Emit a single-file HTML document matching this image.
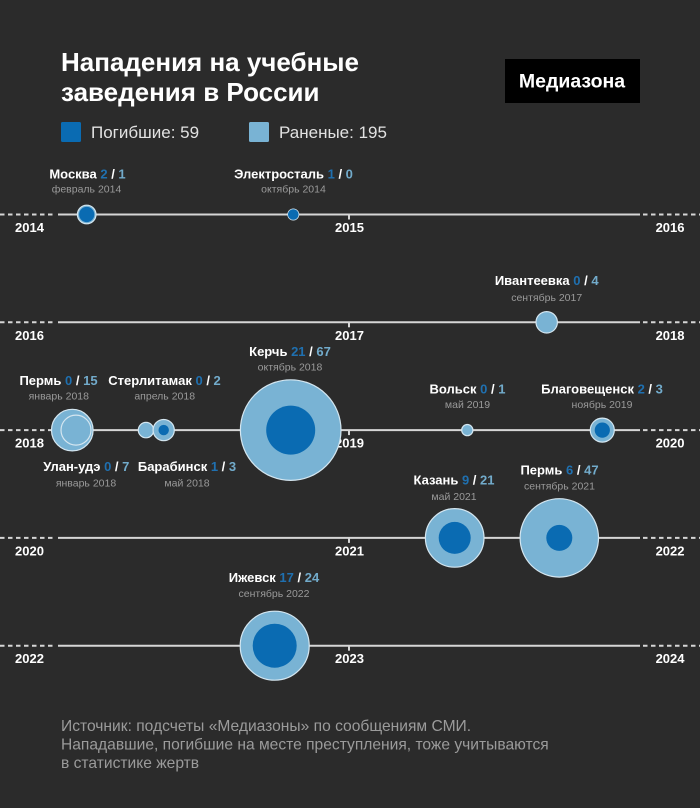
<!DOCTYPE html>
<html><head><meta charset="utf-8"><style>
html,body{margin:0;padding:0;background:#2b2b2b;}
svg{display:block;}
text{font-family:"Liberation Sans","Noto Sans CJK SC",sans-serif;}
.t{font-weight:bold;font-size:26px;fill:#fff;}
.lg{font-size:17px;fill:#e2e2e2;}
.n{font-weight:bold;font-size:13px;fill:#fff;}
.d{font-size:10.5px;fill:#9a9a9a;}
.y{font-weight:bold;font-size:13px;fill:#fff;}
.k{fill:#1f70b0;}
.i{fill:#72abcb;}
.f{font-size:15.6px;fill:#9b9b9b;}
.ln{stroke:#d6d6d6;stroke-width:2;fill:none;}
.ds{stroke:#d6d6d6;stroke-width:2;fill:none;stroke-dasharray:4.5,3.5;}
.o{fill:#79b3d4;stroke:#d4e6f0;stroke-width:1.2;}
.c{fill:#0a6bb2;}
</style></head><body>
<svg width="700" height="808" viewBox="0 0 700 808" xmlns="http://www.w3.org/2000/svg">
<rect width="700" height="808" fill="#2b2b2b"/>
<text class="t" x="61" y="71">Нападения на учебные</text>
<text class="t" x="61" y="101">заведения в России</text>
<rect x="505" y="59" width="135" height="44" fill="#000"/>
<text x="572" y="87.5" text-anchor="middle" style="font-weight:bold;font-size:19.5px;fill:#fff">Медиазона</text>
<rect x="61" y="122" width="20" height="20" rx="1.5" fill="#0a6bb2"/>
<text class="lg" x="91" y="138">Погибшие: 59</text>
<rect x="249" y="122" width="20" height="20" rx="1.5" fill="#79b3d4"/>
<text class="lg" x="279" y="138">Раненые: 195</text>

<!-- rows -->
<g>
<line class="ds" x1="0" y1="214.5" x2="56" y2="214.5"/><line class="ln" x1="58" y1="214.5" x2="640" y2="214.5"/><line class="ds" x1="643" y1="214.5" x2="700" y2="214.5"/><line class="ln" x1="349" y1="214.5" x2="349" y2="219.5"/>
<line class="ds" x1="0" y1="322.3" x2="56" y2="322.3"/><line class="ln" x1="58" y1="322.3" x2="640" y2="322.3"/><line class="ds" x1="643" y1="322.3" x2="700" y2="322.3"/><line class="ln" x1="349" y1="322.3" x2="349" y2="327.3"/>
<line class="ds" x1="0" y1="430.1" x2="56" y2="430.1"/><line class="ln" x1="58" y1="430.1" x2="640" y2="430.1"/><line class="ds" x1="643" y1="430.1" x2="700" y2="430.1"/><line class="ln" x1="349" y1="430.1" x2="349" y2="435.1"/>
<line class="ds" x1="0" y1="537.9" x2="56" y2="537.9"/><line class="ln" x1="58" y1="537.9" x2="640" y2="537.9"/><line class="ds" x1="643" y1="537.9" x2="700" y2="537.9"/><line class="ln" x1="349" y1="537.9" x2="349" y2="542.9"/>
<line class="ds" x1="0" y1="645.7" x2="56" y2="645.7"/><line class="ln" x1="58" y1="645.7" x2="640" y2="645.7"/><line class="ds" x1="643" y1="645.7" x2="700" y2="645.7"/><line class="ln" x1="349" y1="645.7" x2="349" y2="650.7"/>
</g>
<g>
<text class="y" x="15" y="232">2014</text><text class="y" x="349.5" y="232" text-anchor="middle">2015</text><text class="y" x="684.5" y="232" text-anchor="end">2016</text>
<text class="y" x="15" y="339.8">2016</text><text class="y" x="349.5" y="339.8" text-anchor="middle">2017</text><text class="y" x="684.5" y="339.8" text-anchor="end">2018</text>
<text class="y" x="15" y="447.6">2018</text><text class="y" x="349.5" y="447.6" text-anchor="middle">2019</text><text class="y" x="684.5" y="447.6" text-anchor="end">2020</text>
<text class="y" x="15" y="555.4">2020</text><text class="y" x="349.5" y="555.4" text-anchor="middle">2021</text><text class="y" x="684.5" y="555.4" text-anchor="end">2022</text>
<text class="y" x="15" y="663.2">2022</text><text class="y" x="349.5" y="663.2" text-anchor="middle">2023</text><text class="y" x="684.5" y="663.2" text-anchor="end">2024</text>
</g>

<!-- circles -->
<circle class="o" cx="86.7" cy="214.5" r="9.3"/><circle class="c" cx="86.7" cy="214.5" r="7.6"/>
<circle class="o" cx="293.3" cy="214.5" r="5.4"/><circle class="c" cx="293.3" cy="214.5" r="5.3"/>
<circle class="o" cx="546.7" cy="322.3" r="10.7"/>
<circle class="o" cx="72.3" cy="430.1" r="20.8"/><circle class="o" cx="76" cy="430.1" r="15"/>
<circle class="o" cx="146" cy="430.1" r="7.7"/>
<circle class="o" cx="163.7" cy="430.1" r="10.6"/><circle class="c" cx="163.7" cy="430.1" r="5.2"/>
<circle class="o" cx="290.7" cy="430.1" r="50.3"/><circle class="c" cx="290.7" cy="430.1" r="24.5"/>
<circle class="o" cx="467.3" cy="430.1" r="5.6"/>
<circle class="o" cx="602.3" cy="430.1" r="12"/><circle class="c" cx="602.3" cy="430.1" r="7.6"/>
<circle class="o" cx="454.7" cy="537.9" r="29.3"/><circle class="c" cx="454.7" cy="537.9" r="16"/>
<circle class="o" cx="559.3" cy="537.9" r="39.2"/><circle class="c" cx="559.3" cy="537.9" r="13"/>
<circle class="o" cx="274.7" cy="645.7" r="34.5"/><circle class="c" cx="274.7" cy="645.7" r="22"/>

<!-- labels -->
<g text-anchor="middle">
<text class="n" x="87.5" y="178.5">Москва <tspan class="k">2</tspan> / <tspan class="i">1</tspan></text>
<text class="d" x="86.5" y="192.5">февраль 2014</text>
<text class="n" x="293.5" y="178.5">Электросталь <tspan class="k">1</tspan> / <tspan class="i">0</tspan></text>
<text class="d" x="293.5" y="192.5">октябрь 2014</text>
<text class="n" x="546.7" y="285">Ивантеевка <tspan class="k">0</tspan> / <tspan class="i">4</tspan></text>
<text class="d" x="546.7" y="301">сентябрь 2017</text>
<text class="n" x="58.5" y="385">Пермь <tspan class="k">0</tspan> / <tspan class="i">15</tspan></text>
<text class="d" x="58.8" y="399.5">январь 2018</text>
<text class="n" x="164.5" y="385">Стерлитамак <tspan class="k">0</tspan> / <tspan class="i">2</tspan></text>
<text class="d" x="164.7" y="399.5">апрель 2018</text>
<text class="n" x="290" y="356">Керчь <tspan class="k">21</tspan> / <tspan class="i">67</tspan></text>
<text class="d" x="290" y="370.5">октябрь 2018</text>
<text class="n" x="86.3" y="471">Улан-удэ <tspan class="k">0</tspan> / <tspan class="i">7</tspan></text>
<text class="d" x="86" y="486.5">январь 2018</text>
<text class="n" x="187" y="471">Барабинск <tspan class="k">1</tspan> / <tspan class="i">3</tspan></text>
<text class="d" x="187" y="486.5">май 2018</text>
<text class="n" x="467.5" y="393.5">Вольск <tspan class="k">0</tspan> / <tspan class="i">1</tspan></text>
<text class="d" x="467.5" y="408">май 2019</text>
<text class="n" x="602" y="393.5">Благовещенск <tspan class="k">2</tspan> / <tspan class="i">3</tspan></text>
<text class="d" x="602" y="408">ноябрь 2019</text>
<text class="n" x="454" y="484.5">Казань <tspan class="k">9</tspan> / <tspan class="i">21</tspan></text>
<text class="d" x="454" y="500">май 2021</text>
<text class="n" x="559.5" y="474.5">Пермь <tspan class="k">6</tspan> / <tspan class="i">47</tspan></text>
<text class="d" x="559.5" y="489.5">сентябрь 2021</text>
<text class="n" x="274" y="582">Ижевск <tspan class="k">17</tspan> / <tspan class="i">24</tspan></text>
<text class="d" x="274" y="597">сентябрь 2022</text>
</g>

<text class="f" x="61" y="731">Источник: подсчеты «Медиазоны» по сообщениям СМИ.</text>
<text class="f" x="61" y="749.5">Нападавшие, погибшие на месте преступления, тоже учитываются</text>
<text class="f" x="61" y="768">в статистике жертв</text>
</svg>
</body></html>
